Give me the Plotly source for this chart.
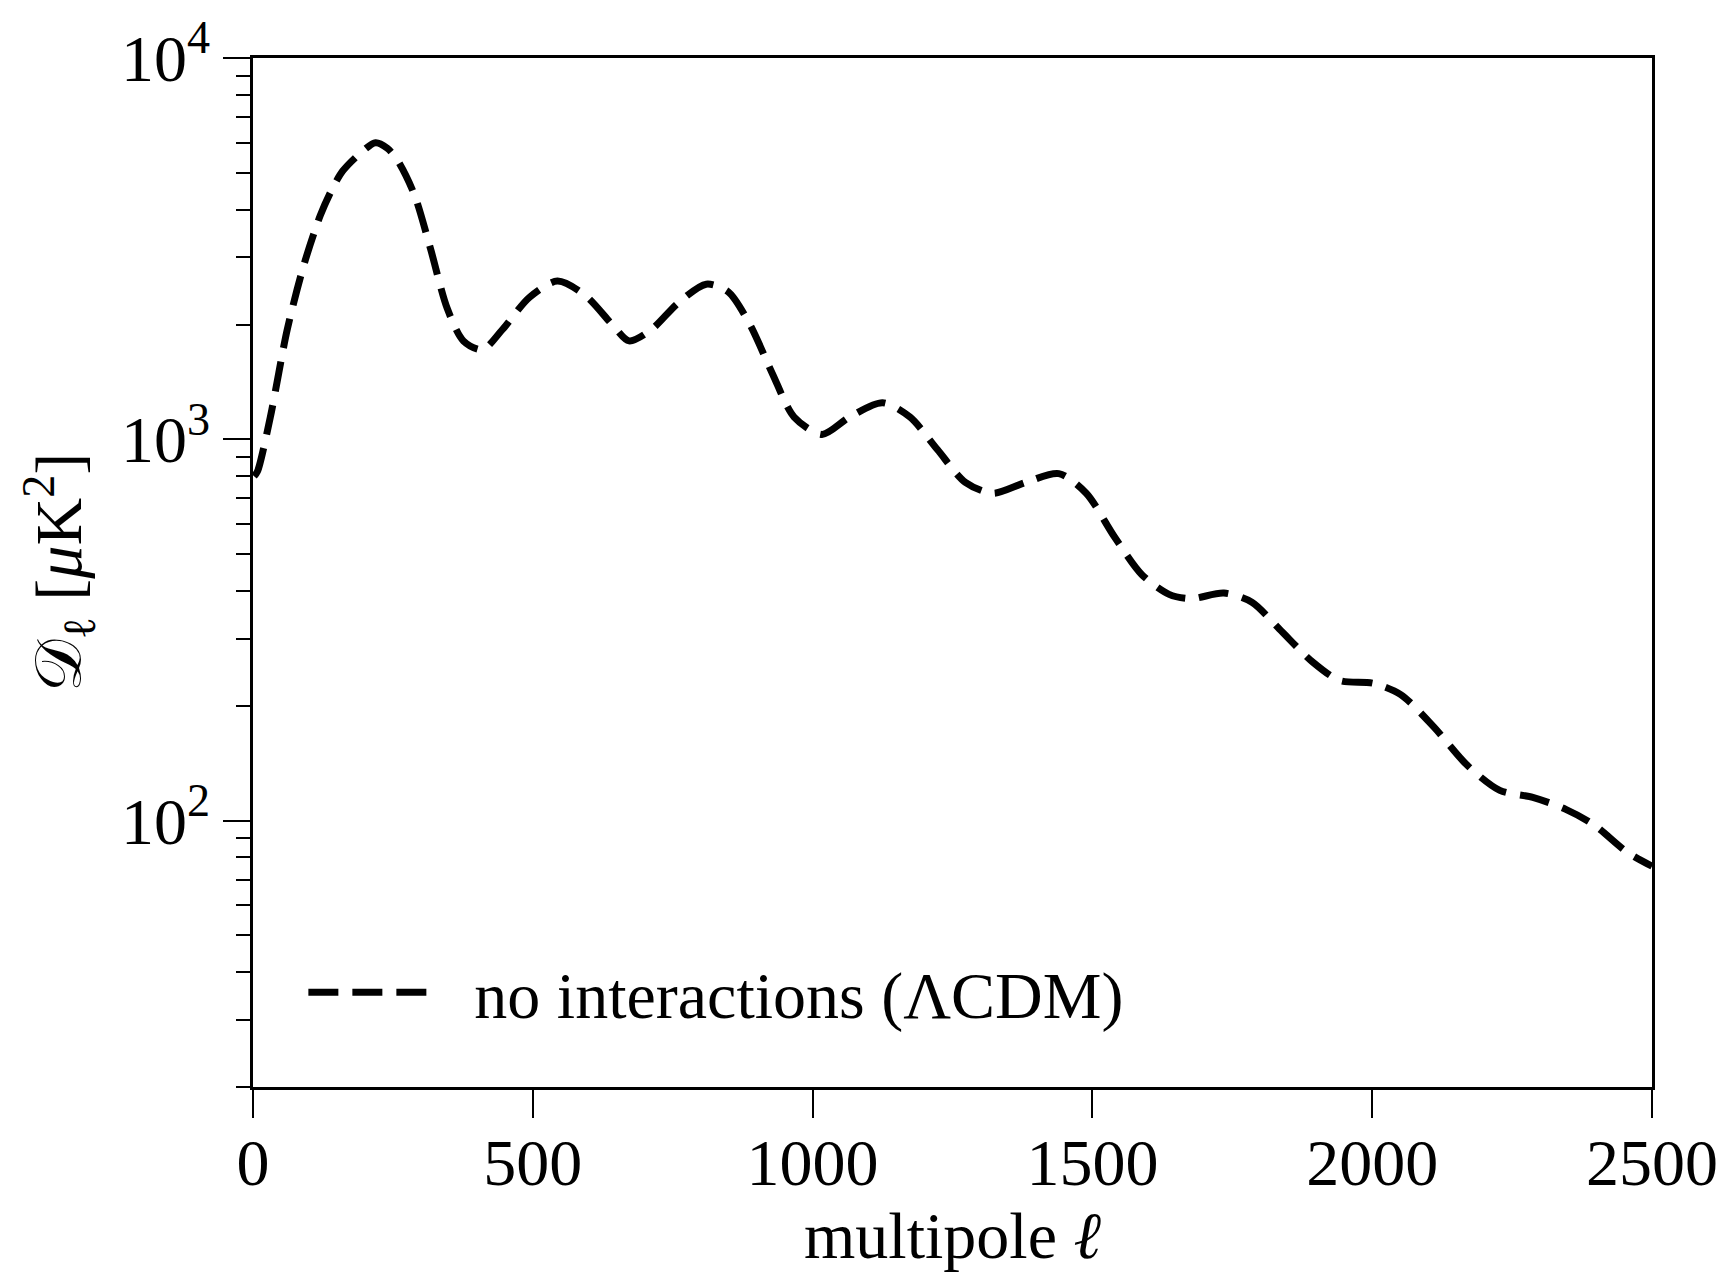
import plotly.graph_objects as go
import numpy as np

# multipole ell and D_ell [muK^2]
ell = [2, 8, 31, 61, 91, 120, 140, 160, 190, 219, 240, 258, 288, 317, 347, 376, 410, 445,
       494, 544, 593, 642, 672, 711, 760, 810, 849, 888, 928, 967, 1017, 1066, 1125, 1174,
       1223, 1273, 1322, 1381, 1440, 1489, 1539, 1588, 1637, 1676, 1735, 1785, 1834, 1893,
       1942, 2002, 2051, 2110, 2169, 2228, 2287, 2346, 2396, 2455, 2500]
dl = [800, 824, 1144, 1935, 2870, 3857, 4490, 5050, 5600, 6000, 5800, 5400, 4397, 3170,
      2206, 1812, 1719, 1935, 2357, 2600, 2389, 2000, 1812, 1935, 2280, 2552, 2438, 2000,
      1489, 1144, 1030, 1144, 1247, 1144, 940, 771, 722, 771, 813, 722, 556, 442, 392, 382,
      395, 374, 318, 261, 233, 229, 214, 176, 140, 120, 115, 107, 97.5, 82.7, 75.9]

series_name = "\u00a0\u00a0no interactions (ΛCDM)"
x_ticks = [0, 500, 1000, 1500, 2000, 2500]
y_major = [100, 1000, 10000]
y_major_text = ["10<sup>2</sup>", "10<sup>3</sup>", "10<sup>4</sup>"]
y_minor = [m * d for d in (10, 100, 1000) for m in range(2, 10)]

FONT = "Liberation Serif"
FS = 66
fig = go.Figure()
fig.add_trace(go.Scatter(
    x=ell, y=dl, mode="lines", name=series_name,
    line=dict(color="black", width=7, dash="30px,14px", shape="spline", smoothing=0.8),
))

axis_common = dict(showline=True, linecolor="black", linewidth=2.5, mirror=True,
                   showgrid=False, zeroline=False, tickcolor="black", tickwidth=2,
                   ticklabeloverflow="allow",
                   tickfont=dict(family=FONT, size=FS, color="black"))

fig.update_xaxes(range=[0, 2500], tickvals=x_ticks, ticks="outside", ticklen=28,
                 ticklabelstandoff=-12,
                 title=dict(text="multipole <i>ℓ</i>", font=dict(family=FONT, size=FS, color="black"), standoff=14),
                 **axis_common)
fig.update_yaxes(type="log", range=[np.log10(20), 4.0002], tickvals=y_major, ticktext=y_major_text,
                 ticks="outside", ticklen=27,
                 minor=dict(tickvals=y_minor, ticks="outside", ticklen=14, tickwidth=2, tickcolor="black"),
                 title=dict(text="𝒟<sub>ℓ</sub> [<i>μ</i>K<sup>2</sup>]", font=dict(family=FONT, size=FS, color="black"), standoff=18),
                 **axis_common)

fig.update_layout(
    width=1730, height=1277,
    margin=dict(l=253, r=77, t=44, b=190),
    plot_bgcolor="white", paper_bgcolor="white",
    showlegend=True,
    legend=dict(x=0.036, y=0.092, xanchor="left", yanchor="middle", bgcolor="rgba(0,0,0,0)",
                font=dict(family=FONT, size=FS, color="black"), itemwidth=128),
)
fig.write_html("out.html")
